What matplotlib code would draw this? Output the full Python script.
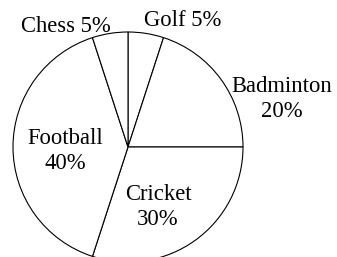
import matplotlib
matplotlib.use("Agg")
import matplotlib.pyplot as plt

# datos
sports = ["Golf", "Badminton", "Cricket", "Football", "Chess"]
shares = [5, 20, 30, 40, 5]

plt.rcParams['font.family'] = ['Liberation Serif', 'DejaVu Serif']

fig = plt.figure(figsize=(3.37, 2.57), dpi=100)
ax = fig.add_axes([0, 0, 1, 1])

ax.pie(shares, startangle=90, counterclock=False, center=(128, 110), radius=115,
       colors=['white'] * len(shares),
       wedgeprops=dict(edgecolor='black', linewidth=0.8))

# etiquetas (posicion en pixeles, y desde abajo)
label_pos = {
    "Golf": (183, 237),
    "Badminton": (282, 158),
    "Cricket": (158, 50),
    "Football": (65, 106),
    "Chess": (66, 231),
}
for name, val in zip(sports, shares):
    x, y = label_pos[name]
    if name in ("Golf", "Chess"):
        txt = f"{name} {val}%"
    else:
        txt = f"{name}\n{val}%"
    ax.text(x, y, txt, ha='center', va='center', fontsize=16.3, linespacing=1.2)

ax.set_xlim(0, 337)
ax.set_ylim(0, 257)
ax.set_aspect('auto')
ax.axis('off')

fig.savefig("out.png", dpi=100)
